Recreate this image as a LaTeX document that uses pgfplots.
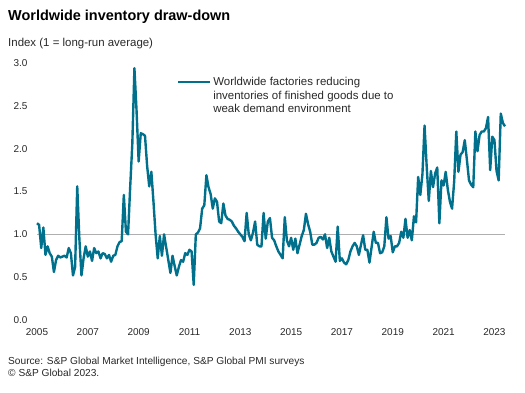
\documentclass[border=0pt]{standalone}
\usepackage{fontspec}
\setmainfont{Liberation Sans}
\usepackage{pgfplots}
\pgfplotsset{compat=1.18}
\usetikzlibrary{calc}
\definecolor{sptteal}{RGB}{0,112,140}
\definecolor{refgray}{RGB}{175,175,175}
\definecolor{txt}{RGB}{40,40,40}
\begin{document}
\begin{tikzpicture}[x=1bp,y=1bp]
\begin{axis}[
  name=ax,
  scale only axis, width=468bp, height=257bp,
  xmin=0, xmax=221, ymin=0, ymax=3,
  clip=false,
  axis line style={draw=none},
  major tick style={draw=none},
  xtick={0,24,48,72,96,120,144,168,192,216},
  xticklabels={2005,2007,2009,2011,2013,2015,2017,2019,2021,2023},
  ytick={0,0.5,1,1.5,2,2.5,3},
  yticklabels={0.0,0.5,1.0,1.5,2.0,2.5,3.0},
  tick label style={font=\fontsize{10}{12}\selectfont, text=txt},
  xticklabel style={yshift=-5bp},
  yticklabel style={xshift=-6bp},
  legend style={at={(0.299,0.951)}, anchor=north west, draw=none, fill=none,
    inner sep=0pt, outer sep=0pt, font=\fontsize{11.5}{13.5}\selectfont, text=txt,
    cells={anchor=base west, align=left, inner xsep=1bp, inner ysep=1bp}},
  legend image code/.code={\draw[#1] (0bp,30.5bp) -- (32bp,30.5bp);},
]
\addplot[refgray, line width=0.8pt, forget plot] coordinates {(0,1) (221,1)};
\addplot[sptteal, line width=2.4pt, line join=round] coordinates {
(0,1.13) (1,1.11) (2,0.84) (3,1.08) (4,0.76) (5,0.86) (6,0.78) (7,0.74) (8,0.56) (9,0.70) (10,0.75) (11,0.73)
(12,0.74) (13,0.75) (14,0.73) (15,0.84) (16,0.78) (17,0.52) (18,0.62) (19,1.56) (20,0.95) (21,0.52) (22,0.72) (23,0.86)
(24,0.74) (25,0.80) (26,0.69) (27,0.84) (28,0.78) (29,0.80) (30,0.72) (31,0.78) (32,0.77) (33,0.72) (34,0.76) (35,0.68)
(36,0.75) (37,0.76) (38,0.86) (39,0.91) (40,0.92) (41,1.46) (42,1.03) (43,1.00) (44,1.55) (45,2.05) (46,2.94) (47,2.45)
(48,1.85) (49,2.18) (50,2.17) (51,2.15) (52,1.80) (53,1.56) (54,1.73) (55,1.38) (56,1.00) (57,0.72) (58,0.98) (59,0.75)
(60,1.00) (61,0.85) (62,0.70) (63,0.55) (64,0.75) (65,0.63) (66,0.52) (67,0.62) (68,0.70) (69,0.68) (70,0.78) (71,0.76)
(72,0.82) (73,0.80) (74,0.41) (75,1.00) (76,1.02) (77,1.07) (78,1.30) (79,1.34) (80,1.69) (81,1.55) (82,1.47) (83,1.30)
(84,1.42) (85,1.38) (86,1.15) (87,1.13) (88,1.36) (89,1.22) (90,1.18) (91,1.17) (92,1.15) (93,1.10) (94,1.07) (95,1.03)
(96,1.00) (97,0.97) (98,0.92) (99,1.25) (100,1.00) (101,0.93) (102,1.02) (103,1.15) (104,0.88) (105,0.86) (106,0.86) (107,1.25)
(108,0.95) (109,1.15) (110,1.19) (111,0.96) (112,0.93) (113,0.86) (114,0.80) (115,0.76) (116,0.72) (117,1.20) (118,0.93) (119,0.86)
(120,0.96) (121,0.82) (122,0.95) (123,0.78) (124,0.88) (125,0.98) (126,1.05) (127,1.24) (128,1.12) (129,1.03) (130,0.88) (131,0.88)
(132,0.90) (133,0.96) (134,0.97) (135,0.94) (136,1.00) (137,0.84) (138,0.96) (139,0.80) (140,0.74) (141,0.68) (142,1.09) (143,0.69)
(144,0.72) (145,0.67) (146,0.65) (147,0.70) (148,0.80) (149,0.86) (150,0.90) (151,0.86) (152,0.76) (153,0.88) (154,0.99) (155,0.82)
(156,0.82) (157,0.67) (158,0.85) (159,1.03) (160,0.90) (161,0.90) (162,0.78) (163,0.79) (164,0.86) (165,1.20) (166,0.95) (167,0.98)
(168,0.79) (169,0.86) (170,0.86) (171,0.90) (172,1.03) (173,0.96) (174,1.18) (175,0.96) (176,1.05) (177,0.93) (178,1.21) (179,1.14)
(180,1.67) (181,1.46) (182,1.70) (183,2.27) (184,1.80) (185,1.39) (186,1.74) (187,1.55) (188,1.71) (189,1.78) (190,1.13) (191,1.63)
(192,1.57) (193,1.73) (194,1.52) (195,1.38) (196,1.30) (197,1.62) (198,2.20) (199,1.73) (200,1.93) (201,1.96) (202,2.10) (203,1.87)
(204,1.63) (205,1.58) (206,1.55) (207,2.20) (208,1.97) (209,2.16) (210,2.20) (211,2.20) (212,2.24) (213,2.37) (214,1.75) (215,2.14)
(216,2.10) (217,1.74) (218,1.63) (219,2.41) (220,2.30) (221,2.26)
};
\addlegendentry{Worldwide factories reducing\\inventories of finished goods due to\\weak demand environment}
\end{axis}
\path[use as bounding box] ($(ax.south west)+(-37,-72)$) rectangle ($(ax.south west)+(488,320)$);
\node[anchor=base west, inner sep=0, font=\fontsize{14.5}{17}\selectfont\bfseries] at ($(ax.south west)+(-29,300)$) {Worldwide inventory draw-down};
\node[anchor=base west, inner sep=0, text=txt, font=\fontsize{11.5}{14}\selectfont] at ($(ax.south west)+(-29,274)$) {Index (1 = long-run average)};
\node[anchor=base west, inner sep=0, text=txt, font=\fontsize{10.2}{12}\selectfont] at ($(ax.south west)+(-29,-44)$) {Source: S\&P Global Market Intelligence, S\&P Global PMI surveys};
\node[anchor=base west, inner sep=0, text=txt, font=\fontsize{10.2}{12}\selectfont] at ($(ax.south west)+(-29,-56.5)$) {© S\&P Global 2023.};
\end{tikzpicture}
\end{document}
